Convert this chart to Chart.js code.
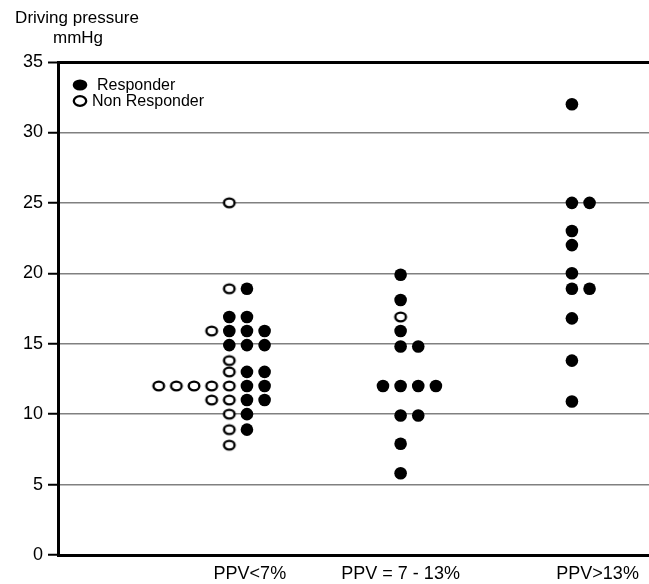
<!DOCTYPE html>
<html>
<head>
<meta charset="utf-8">
<script src="https://cdn.jsdelivr.net/npm/chart.js@4"></script>
<style>
  html, body { margin: 0; padding: 0; background: #fff; overflow: hidden; }
  canvas { display: block; }
</style>
</head>
<body>
<canvas id="chart" width="649" height="584"></canvas>
<script>
// groups along the x axis
const categories = ['PPV<7%', 'PPV = 7 - 13%', 'PPV>13%']
const categoryX = [1, 2, 3]
const labelX = [1.12, 2, 3.15]

// [driving pressure mmHg, column in its dot row]
const responderLow = [[18.9, 1], [16.9, 0], [16.9, 1], [15.9, 0], [15.9, 1], [15.9, 2], [14.9, 0], [14.9, 1], [14.9, 2],
  [13, 1], [13, 2], [12, 1], [12, 2], [11, 1], [11, 2], [10, 1], [8.9, 1]]
const nonResponderLow = [[25, 0], [18.9, 0], [15.9, -1], [13.8, 0], [13, 0], [12, -4], [12, -3], [12, -2], [12, -1], [12, 0],
  [11, -1], [11, 0], [10, 0], [8.9, 0], [7.8, 0]]
const responderMid = [[19.9, 0], [18.1, 0], [15.9, 0], [14.8, 0], [14.8, 1], [12, -1], [12, 0], [12, 1], [12, 2],
  [9.9, 0], [9.9, 1], [7.9, 0], [5.8, 0]]
const nonResponderMid = [[16.9, 0]]
const responderHigh = [[32, 0], [25, 0], [25, 1], [23, 0], [22, 0], [20, 0], [18.9, 0], [18.9, 1], [16.8, 0], [13.8, 0], [10.9, 0]]
const nonResponderHigh = []

const yTicks = [0, 5, 10, 15, 20, 25, 30, 35]

const slotStep = 0.103
const toPoints = (rows, g) => rows.map(([v, slot]) => ({ x: categoryX[g] + slot * slotStep, y: v }))

// open marker: slightly wide ring
const ring = document.createElement('canvas')
ring.width = 16
ring.height = 14
const rctx = ring.getContext('2d')
rctx.lineWidth = 2.4
rctx.strokeStyle = '#000'
rctx.fillStyle = '#fff'
rctx.beginPath()
rctx.ellipse(8, 7, 5.3, 4.4, 0, 0, Math.PI * 2)
rctx.fill()
rctx.stroke()

Chart.defaults.font.family = "'Liberation Sans', Arial, sans-serif"
Chart.defaults.color = '#000'

const FONT = "'Liberation Sans', Arial, sans-serif"

const extras = {
  id: 'extras',
  afterDraw(chart) {
    const { ctx, chartArea } = chart
    ctx.save()
    ctx.fillStyle = '#000'
    ctx.textAlign = 'center'
    ctx.textBaseline = 'alphabetic'
    ctx.font = '17px ' + FONT
    ctx.fillText('Driving pressure', 77, 23)
    ctx.fillText('mmHg', 78, 42.5)

    // legend in the top-left of the plot
    const textX = [97, 92]
    chart.data.datasets.forEach((ds, i) => {
      const cx = chartArea.left + 22
      const cy = chartArea.top + 23 + i * 16
      ctx.beginPath()
      if (ds.legendOpen) {
        ctx.ellipse(cx, cy, 6.2, 4.8, 0, 0, Math.PI * 2)
        ctx.lineWidth = 2.3
        ctx.strokeStyle = '#000'
        ctx.stroke()
      } else {
        ctx.ellipse(cx, cy, 7.3, 5.5, 0, 0, Math.PI * 2)
        ctx.fillStyle = '#000'
        ctx.fill()
      }
      ctx.fillStyle = '#000'
      ctx.textAlign = 'left'
      ctx.textBaseline = 'middle'
      ctx.font = '16px ' + FONT
      ctx.fillText(ds.label, textX[i], cy + 1)
    })
    ctx.restore()
  }
}

new Chart(document.getElementById('chart'), {
  type: 'scatter',
  data: {
    datasets: [
      {
        label: 'Responder',
        data: [...toPoints(responderLow, 0), ...toPoints(responderMid, 1), ...toPoints(responderHigh, 2)],
        pointRadius: 6.3,
        pointHoverRadius: 6.3,
        pointBackgroundColor: '#000',
        pointBorderWidth: 0,
        legendOpen: false
      },
      {
        label: 'Non Responder',
        data: [...toPoints(nonResponderLow, 0), ...toPoints(nonResponderMid, 1), ...toPoints(nonResponderHigh, 2)],
        pointStyle: ring,
        pointRadius: 6,
        legendOpen: true
      }
    ]
  },
  options: {
    responsive: false,
    animation: false,
    layout: { autoPadding: false, padding: { top: 62, left: 0, right: 0, bottom: 0 } },
    plugins: {
      legend: { display: false },
      tooltip: { enabled: false }
    },
    scales: {
      x: {
        type: 'linear',
        min: 0,
        max: 3.45,
        afterBuildTicks: s => { s.ticks = labelX.map(v => ({ value: v })) },
        afterFit: s => { s.height = 29; s.paddingLeft = 0; s.paddingRight = 0 },
        ticks: {
          autoSkip: false,
          maxRotation: 0,
          padding: 8,
          font: { size: 18 },
          color: '#000',
          callback: (v, i) => categories[i]
        },
        grid: { drawOnChartArea: false, drawTicks: false },
        border: { color: '#000', width: 3 }
      },
      y: {
        min: 0,
        max: 35,
        afterBuildTicks: s => { s.ticks = yTicks.map(v => ({ value: v })) },
        afterFit: s => { s.width = 58 },
        ticks: {
          padding: 5,
          font: { size: 18 },
          color: '#000'
        },
        grid: {
          color: c => (c.tick && c.tick.value === 35 ? '#000' : '#808080'),
          lineWidth: c => (c.tick && c.tick.value === 35 ? 3 : 1.5),
          tickColor: '#000',
          tickLength: 10,
          tickWidth: 2
        },
        border: { color: '#000', width: 3 }
      }
    }
  },
  plugins: [extras]
})
</script>
</body>
</html>
